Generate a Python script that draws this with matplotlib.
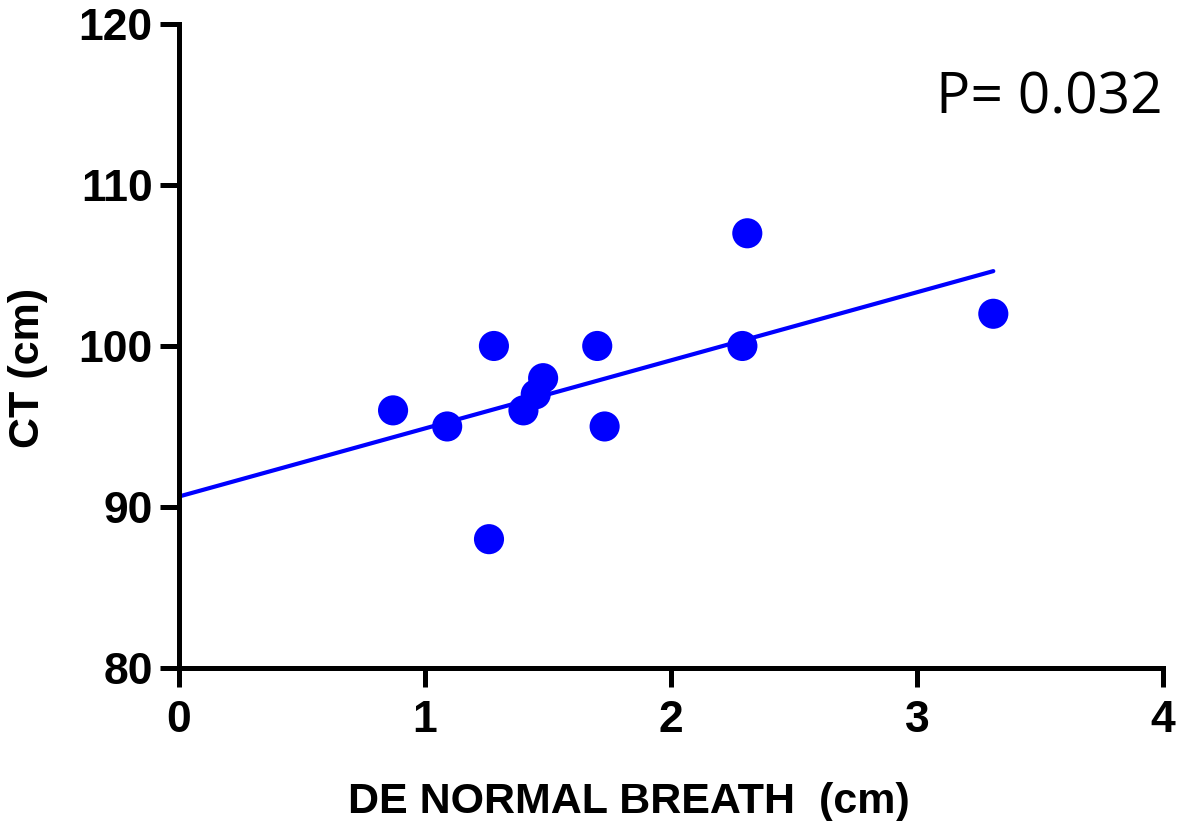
import matplotlib
matplotlib.use("Agg")
import matplotlib.pyplot as plt

# DE during normal breath (cm) vs CT (cm)
de_normal = [0.87, 1.09, 1.26, 1.28, 1.40, 1.45, 1.48, 1.70, 1.73, 2.29, 2.31, 3.31]
ct_cm = [96, 95, 88, 100, 96, 97, 98, 100, 95, 100, 107, 102]

# regression line as drawn (endpoints)
fit_x = [0.0, 3.31]
fit_y = [90.65, 104.65]

x_ticks = [0, 1, 2, 3, 4]
y_ticks = [80, 90, 100, 110, 120]
p_text = "P= 0.032"

BLUE = "#0000ff"
plt.rcParams["font.family"] = ["Liberation Sans", "DejaVu Sans"]

fig = plt.figure(figsize=(11.81, 8.21), dpi=100)
ax = fig.add_axes([0.1516, 0.1864, 0.8332, 0.7844])

ax.plot(fit_x, fit_y, color=BLUE, lw=3.0, solid_capstyle="round", zorder=2)
ax.scatter(de_normal, ct_cm, s=470, color=BLUE, edgecolors="none", zorder=3)

ax.set_xlim(0, 4); ax.set_ylim(80, 120)
ax.set_xticks(x_ticks); ax.set_yticks(y_ticks)
ax.set_xticklabels([str(v) for v in x_ticks], fontsize=32, fontweight="bold")
ax.set_yticklabels([str(v) for v in y_ticks], fontsize=32, fontweight="bold")
for side in ("top", "right"):
    ax.spines[side].set_visible(False)
for side in ("left", "bottom"):
    ax.spines[side].set_linewidth(3.6)
ax.tick_params(axis="both", direction="out", length=14, width=3.6)
ax.tick_params(axis="y", pad=5)
ax.tick_params(axis="x", pad=9)

fig.text(348 / 1181, 1 - 813 / 821, "DE NORMAL BREATH  (cm)", fontsize=31, fontweight="bold",
         ha="left", va="baseline")
fig.text(28 / 1181, 1 - 368 / 821, "CT (cm)", fontsize=31, fontweight="bold",
         rotation=90, ha="center", va="center")
fig.text(1163 / 1181, 1 - 114 / 821, p_text, fontsize=41, family=["Open Sans", "DejaVu Sans"],
         ha="right", va="baseline")

fig.savefig("out.png", dpi=100, facecolor="white")
